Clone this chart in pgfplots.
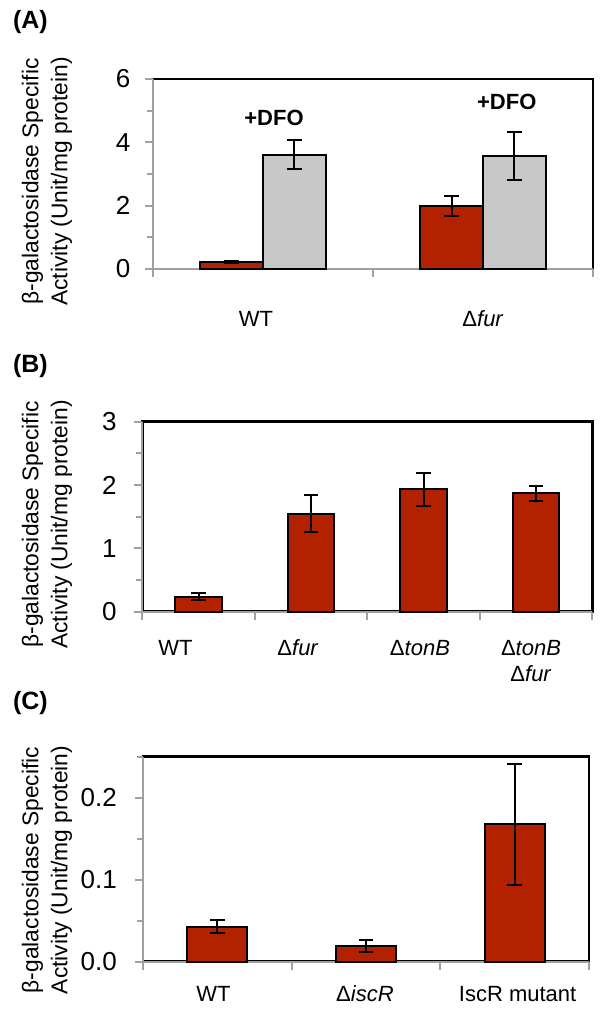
\documentclass[border=0pt]{standalone}
\usepackage{fontspec}
\setmainfont{Liberation Sans}
\usepackage{pgfplots}
\pgfplotsset{compat=1.18}

\definecolor{barRed}{HTML}{B22200}
\definecolor{barGray}{HTML}{C8C8C8}
\definecolor{axGray}{HTML}{A0A0A0}

\pgfplotsset{panel/.style={
    scale only axis, ybar, ymin=0,
    enlarge x limits=false, enlarge y limits=false,
    axis lines*=left, axis line style={-, draw=axGray, line width=1.1pt},
    tick align=outside, major tick length=4pt, minor tick length=3pt,
    tick style={axGray, line width=1.1pt},
    /pgf/number format/assume math mode=true,
    yticklabel style={font=\fontsize{13}{15}\selectfont, anchor=east},
    xticklabels={},
    extra x tick style={major tick length=0pt,
      tick label style={font=\fontsize{11}{13.35}\selectfont, anchor=base}},
    scaled y ticks=false,
    clip=false,
  },
  % black box behind each panel: its top and right sides stay visible
  framebox/.style={
    scale only axis, axis lines=box, ticks=none,
    axis line style={black, line width=1.3pt},
    enlarge x limits=false, enlarge y limits=false,
    xmin=0, xmax=1, ymin=0, ymax=1,
  },
  ebar/.style={error bars/.cd, y dir=both, y explicit,
    error bar style={black, line width=1pt},
    error mark options={black, rotate=90, mark size=3.6pt, line width=1pt}},
  bars/.style={draw=black, line width=1pt},
}
\newcommand{\ylab}{\fontsize{11.4}{14.5}\selectfont}
\newcommand{\plab}{\bfseries\fontsize{12.5}{14}\selectfont}

\begin{document}
\begin{tikzpicture}
  % (A)
  \node[anchor=west, font=\plab] at (3pt,-11.25pt) {(A)};
  \node[rotate=90, align=center, font=\ylab] at (23.5pt,-90.75pt)
    {β-galactosidase Specific\\Activity (Unit/mg protein)};
  \begin{axis}[framebox, at={(76.5pt,-134.5pt)}, anchor=south west,
      width=220pt, height=95pt]
  \end{axis}
  \begin{axis}[panel, at={(76.5pt,-134.5pt)}, anchor=south west,
      width=220pt, height=95pt,
      xmin=0.5, xmax=2.5, xtick={0.5,1.5,2.5},
      ymax=6, ytick={0,2,4,6}, minor ytick={1,3,5},
      yticklabel style={xshift=-3.8pt},
      bar width=0.285,
      extra x ticks={0.968,2.0}, extra x tick labels={WT,Δ\textit{fur}},
      extra x tick style={tick label style={yshift=-28.85pt}}]
    \addplot[bars, fill=barRed, bar shift=-0.1425, ebar]
      coordinates {(1,0.23) +- (0,0.03) (2,1.99) +- (0,0.32)};
    \addplot[bars, fill=barGray, bar shift=0.1425, ebar]
      coordinates {(1,3.61) +- (0,0.45) (2,3.57) +- (0,0.75)};
    \node[font=\bfseries\fontsize{11}{13}\selectfont] at (axis cs:1.05,4.77) {+DFO};
    \node[font=\bfseries\fontsize{11}{13}\selectfont] at (axis cs:2.108,5.28) {+DFO};
  \end{axis}

  % (B)
  \node[anchor=west, font=\plab] at (3pt,-183pt) {(B)};
  \node[rotate=90, align=center, font=\ylab] at (23.5pt,-262.25pt)
    {β-galactosidase Specific\\Activity (Unit/mg protein)};
  \begin{axis}[framebox, at={(71.15pt,-305.85pt)}, anchor=south west,
      width=225pt, height=95pt]
  \end{axis}
  \begin{axis}[panel, at={(71.15pt,-305.85pt)}, anchor=south west,
      width=225pt, height=95pt,
      xmin=0.5, xmax=4.5, xtick={0.5,1.5,2.5,3.5,4.5},
      ymax=3, ytick={0,1,2,3}, minor ytick={0.5,1.5,2.5},
      yticklabel style={xshift=-5.3pt},
      bar width=0.41,
      extra x ticks={0.794,1.884,2.968,3.955},
      extra x tick labels={WT,Δ\textit{fur},Δ\textit{tonB},{\begin{tabular}[t]{@{}c@{}}Δ\textit{tonB}\\Δ\textit{fur}\end{tabular}}},
      extra x tick style={tick label style={yshift=-21.65pt}}]
    \addplot[bars, fill=barRed, bar shift=0, ebar]
      coordinates {(1,0.24) +- (0,0.06) (2,1.55) +- (0,0.29) (3,1.93) +- (0,0.26) (4,1.87) +- (0,0.12)};
  \end{axis}

  % (C)
  \node[anchor=west, font=\plab] at (3pt,-351.75pt) {(C)};
  \node[rotate=90, align=center, font=\ylab] at (23.5pt,-435pt)
    {β-galactosidase Specific\\Activity (Unit/mg protein)};
  \begin{axis}[framebox, at={(71.5pt,-480.85pt)}, anchor=south west,
      width=223pt, height=102.5pt]
  \end{axis}
  \begin{axis}[panel, at={(71.5pt,-480.85pt)}, anchor=south west,
      width=223pt, height=102.5pt,
      xmin=0.5, xmax=3.5, xtick={0.5,1.5,2.5,3.5},
      ymax=0.25, ytick={0,0.1,0.2}, minor ytick={0.05,0.15,0.25},
      yticklabel style={xshift=-5.6pt, /pgf/number format/.cd, fixed, fixed zerofill, precision=1},
      bar width=0.403,
      extra x ticks={0.974,1.993,3.02},
      extra x tick labels={WT,Δ\textit{iscR},IscR mutant},
      extra x tick style={tick label style={yshift=-20pt}}]
    \addplot[bars, fill=barRed, bar shift=0, ebar]
      coordinates {(1,0.0427) +- (0,0.008) (2,0.019) +- (0,0.007) (3,0.1675) +- (0,0.074)};
  \end{axis}

  \pgfresetboundingbox
  \path[use as bounding box] (0,0) rectangle (301pt,-505pt);
\end{tikzpicture}
\end{document}
